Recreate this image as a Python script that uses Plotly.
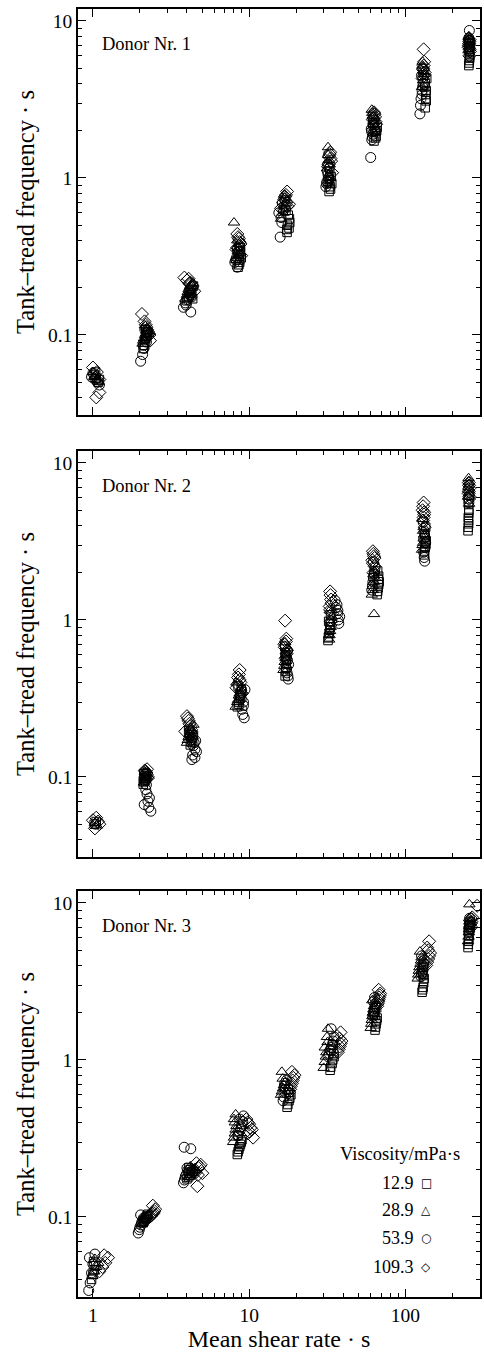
import plotly.graph_objects as go

# ---------------- data ----------------
viscosities = ["12.9", "28.9", "53.9", "109.3"]
donor_labels = ["Donor Nr. 1", "Donor Nr. 2", "Donor Nr. 3"]

# Donor 1
d1_129_x = [1.02,1.05,1.08,1.10,1.04, 2.10,2.15,2.20,2.25,2.18, 4.0,4.1,4.2,4.3,4.4, 8.5,8.7,8.9,8.6,8.8, 17.5,18.0,18.2,17.8,17.2, 32.5,33.0,32.0,33.5,32.8, 63,65,64,66,62, 134,136,135,133,137, 255,257,259,256,258,
            2.18,2.22,2.14, 4.25,4.15,4.35, 8.7,8.8,8.6, 17.6,18.1,17.4, 33.2,32.6,33.8, 64.5,65.5,63.5, 135,136,134, 256,258,257]
d1_129_y = [0.056,0.053,0.050,0.052,0.058, 0.082,0.090,0.098,0.104,0.108, 0.165,0.175,0.185,0.195,0.205, 0.27,0.29,0.31,0.33,0.36, 0.45,0.48,0.52,0.58,0.62, 0.82,0.88,0.95,1.02,1.10, 1.72,1.85,1.98,2.10,2.25, 2.8,3.1,3.4,3.8,4.3, 5.2,5.6,6.0,6.4,6.8,
            0.095,0.100,0.086, 0.180,0.190,0.170, 0.30,0.34,0.28, 0.50,0.55,0.47, 0.85,0.98,0.92, 1.80,2.00,2.18, 3.2,3.6,4.0, 5.4,5.8,6.2]
d1_289_x = [1.00,1.03,1.06,1.09,1.02, 2.08,2.12,2.18,2.22,2.15, 3.9,4.0,4.1,4.2,4.35, 8.0,8.4,8.6,8.5,8.3, 16.0,16.5,17.0,17.5,16.8, 32.0,32.5,31.5,33.0,32.2, 61,62,63,64,62.5, 128,130,132,131,129, 254,256,258,257,255,
            2.16,2.20,2.10, 4.05,4.15,4.25, 8.45,8.55,8.35, 16.6,17.2,16.9, 32.4,32.8,32.0, 62.5,63.5,61.5, 130,131,129, 256,257,255]
d1_289_y = [0.058,0.055,0.052,0.050,0.054, 0.088,0.095,0.102,0.110,0.115, 0.170,0.180,0.195,0.205,0.215, 0.52,0.40,0.36,0.32,0.30, 0.55,0.60,0.66,0.72,0.78, 1.57,1.30,1.15,1.00,0.92, 2.72,2.50,2.30,2.10,1.95, 3.8,4.2,4.6,5.0,5.5, 6.5,6.9,7.3,7.7,8.0,
            0.100,0.106,0.092, 0.188,0.200,0.210, 0.34,0.38,0.31, 0.63,0.69,0.75, 1.05,1.22,1.40, 2.20,2.40,2.60, 4.4,4.8,5.2, 7.1,7.5,7.9]
d1_539_x = [0.98,1.00,1.03,1.07,1.10, 2.02,2.08,2.12,2.20,2.28,2.15, 3.8,3.9,4.0,4.23,4.3, 8.1,8.3,8.5,8.7,8.4, 15.8,16.2,15.5,16.8,17.0, 31.0,31.5,32.0,32.5,31.8, 60,61,62,60.5,62, 124,126,128,130,127, 257,255,258,256,
            2.18,2.24,2.10, 3.95,4.1,4.2, 8.2,8.6,8.4, 16.0,16.5,16.3, 31.3,32.2,31.7, 61.5,60.8,62.5, 125,128,129, 256,257]
d1_539_y = [0.054,0.057,0.052,0.050,0.048, 0.068,0.075,0.082,0.090,0.100,0.108, 0.150,0.160,0.168,0.140,0.175, 0.29,0.31,0.34,0.37,0.27, 0.42,0.52,0.60,0.66,0.72, 0.88,0.95,1.05,1.15,1.22, 1.35,1.75,1.90,2.05,2.20, 2.56,3.2,3.6,4.0,4.5, 8.7,7.8,7.2,6.6,
            0.095,0.104,0.086, 0.155,0.172,0.180, 0.30,0.32,0.35, 0.56,0.63,0.69, 0.92,1.00,1.10, 1.82,1.98,2.12, 2.9,3.4,3.8, 7.5,6.9]
d1_1093_x = [1.00,1.06,1.10,1.10,1.05, 2.06,2.14,2.20,2.25,2.30,2.32, 3.85,4.0,4.15,4.3,4.45, 8.4,8.6,8.8,8.3,8.9, 17.5,17.0,16.5,16.0,18.0, 33.0,32.5,33.5,32.0,34.0, 63,64,62,65,63.5, 131,132,130,133,129, 258,256,254,259,257,
             2.18,2.22,2.28, 4.1,4.2,4.35, 8.5,8.7,8.4, 17.2,16.8,17.6, 32.8,33.2,32.3, 63.5,62.5,64.5, 131,130,132, 257,255,258]
d1_1093_y = [0.062,0.058,0.052,0.043,0.040, 0.136,0.122,0.112,0.105,0.100,0.092, 0.232,0.222,0.212,0.200,0.190, 0.44,0.41,0.38,0.35,0.32, 0.82,0.76,0.70,0.64,0.68, 1.46,1.38,1.28,1.18,1.08, 2.62,2.45,2.35,2.20,2.00, 6.6,5.5,5.0,4.7,4.3, 7.6,7.2,6.8,6.4,6.0,
             0.116,0.108,0.102, 0.228,0.216,0.205, 0.42,0.39,0.36, 0.78,0.73,0.66, 1.42,1.33,1.22, 2.55,2.40,2.28, 5.2,4.9,4.5, 7.4,7.0,6.6]

# Donor 2
d2_129_x = [1.02,1.05, 2.10,2.15,2.20,2.12, 4.2,4.3,4.4,4.1, 8.4,8.6,8.8,9.0,8.5, 17.0,17.2,17.4,17.1,16.9, 32.0,32.5,33.0,32.3,33.2, 66,67,68,67.5,66.5, 132,134,136,133,135, 252,254,253,255,254,
            2.12,2.18,2.16, 4.25,4.35,4.15, 8.6,8.7,8.9, 17.1,17.3,17.0, 32.2,32.8,33.0, 66.5,67.5,67, 133,135,134, 253,254,255]
d2_129_y = [0.050,0.052, 0.090,0.095,0.100,0.105, 0.160,0.172,0.185,0.198, 0.28,0.30,0.32,0.35,0.38, 0.44,0.50,0.56,0.62,0.68, 0.74,0.82,0.90,0.98,1.08, 1.45,1.60,1.75,1.90,2.05, 2.6,2.9,3.2,3.5,3.9, 3.7,4.1,4.5,5.0,5.5,
            0.093,0.098,0.102, 0.166,0.178,0.190, 0.29,0.33,0.36, 0.47,0.53,0.59, 0.78,0.86,0.94, 1.52,1.68,1.82, 2.75,3.05,3.35, 3.9,4.3,4.8]
d2_289_x = [1.03,1.06, 2.12,2.18,2.22,2.15, 4.0,4.1,4.3,4.2,4.4, 8.2,8.5,8.7,8.9,8.3, 16.6,16.9,17.2,17.5,17.0, 32.5,33.0,33.5,33.8,32.8, 63,61,62,64,63.5, 128,130,132,131,129, 254,256,255,253,256,
            2.15,2.20,2.18, 4.05,4.15,4.25, 8.4,8.6,8.8, 16.8,17.1,17.3, 32.7,33.2,33.6, 62,63,62.5, 129,131,130, 255,254,256]
d2_289_y = [0.051,0.049, 0.092,0.098,0.104,0.108, 0.165,0.180,0.195,0.205,0.215, 0.28,0.31,0.34,0.37,0.40, 0.48,0.54,0.60,0.66,0.72, 0.75,0.85,0.95,1.05,1.15, 1.09,1.45,1.65,1.85,2.05, 2.8,3.1,3.5,3.9,4.4, 8.0,7.3,6.7,6.1,5.5,
            0.095,0.101,0.106, 0.172,0.188,0.200, 0.30,0.33,0.36, 0.51,0.57,0.63, 0.80,0.90,1.00, 1.55,1.75,1.95, 3.0,3.3,3.7, 7.6,7.0,6.4]
d2_539_x = [1.04, 2.35,2.13,2.30,2.22,2.20,2.12, 4.3,4.5,4.6,4.4,4.55,4.2, 9.3,9.0,9.2,8.8,9.4, 17.8,17.5,17.9,17.3,17.6, 37.5,38.0,37.0,36.5,35.5, 61,62,63,64,62.5, 133,131,135,132,130, 256,255,
            2.25,2.18,2.28, 4.35,4.5,4.45, 9.1,9.2,8.9, 17.7,17.4,17.6, 37.2,36.8,36.0, 61.5,62.5,63.5, 132,134,131, 255]
d2_539_y = [0.050, 0.0605,0.0667,0.0735,0.078,0.089,0.098, 0.129,0.133,0.145,0.158,0.170,0.185, 0.238,0.27,0.30,0.33,0.36, 0.42,0.46,0.52,0.58,0.64, 0.95,1.05,1.15,1.25,1.33, 1.55,1.75,1.95,2.15,2.35, 2.37,2.7,3.1,3.6,4.2, 6.2,5.6,
            0.070,0.083,0.064, 0.138,0.150,0.165, 0.25,0.285,0.315, 0.44,0.49,0.55, 1.0,1.1,1.2, 1.65,1.85,2.05, 2.5,2.9,3.3, 5.9]
d2_1093_x = [1.00,1.05,1.10,1.03,1.08, 2.15,2.20,2.25,2.18,2.22, 4.0,4.1,4.2,3.9,4.3, 8.7,8.5,8.8,8.3,9.0, 17.0,17.3,16.8,17.5,17.1, 33.0,33.5,32.8,34.0,33.3, 62,63,61.5,63.5,62.5, 131,129,132,130,133, 255,257,254,256,
             2.17,2.21,2.24, 4.05,4.15,4.25, 8.6,8.7,8.5, 17.2,16.9,17.4, 33.2,33.7,33.0, 62.5,63.5,62, 130,132,131, 256,255,257]
d2_1093_y = [0.053,0.055,0.050,0.047,0.052, 0.110,0.106,0.100,0.096,0.112, 0.244,0.228,0.210,0.195,0.175, 0.48,0.43,0.40,0.37,0.34, 0.99,0.76,0.70,0.64,0.57, 1.52,1.35,1.22,1.10,0.98, 2.74,2.55,2.40,2.20,2.00, 5.6,5.0,4.7,4.3,3.9, 7.5,6.9,6.4,5.9,
             0.108,0.104,0.098, 0.236,0.218,0.200, 0.45,0.415,0.385, 0.73,0.67,0.61, 1.44,1.28,1.16, 2.64,2.48,2.30, 5.3,4.85,4.5, 7.2,6.6,6.1]

# Donor 3
d3_129_x = [0.98,1.00,1.02,1.04,1.01, 2.10,2.15,2.20,2.25, 4.0,4.2,4.4,4.1, 8.4,8.6,8.8,9.0,8.5, 17.5,18.0,18.5,17.8, 33.0,34.0,35.0,33.5,34.5, 64,65,66,63,65.5, 128,130,132,129,131, 252,254,256,253,255,
            2.12,2.18,2.22, 4.1,4.3,4.2, 8.5,8.7,8.9, 17.7,18.2,18.0, 33.3,34.3,34.8, 64.5,65.5,64, 129,131,130, 253,255,254]
d3_129_y = [0.040,0.043,0.046,0.049,0.052, 0.092,0.096,0.100,0.104, 0.175,0.185,0.195,0.205, 0.25,0.27,0.29,0.31,0.33, 0.50,0.55,0.60,0.65, 0.86,0.95,1.05,1.15,1.25, 1.55,1.70,1.85,2.00,2.15, 2.7,2.9,3.3,3.6,3.9, 5.2,5.7,6.2,6.7,7.2,
            0.094,0.098,0.102, 0.180,0.190,0.200, 0.26,0.28,0.30, 0.52,0.57,0.62, 0.90,1.00,1.10, 1.62,1.78,1.92, 2.8,3.1,3.45, 5.45,5.95,6.45]
d3_289_x = [0.99,1.02,1.05,1.08,1.03, 2.05,2.12,2.18,2.25, 4.1,4.3,4.5,4.2, 7.9,8.1,8.3,8.0,8.2, 16.0,16.5,17.0,16.2, 30.0,31.0,30.5,31.5,32.0, 60,61,62,63,61.5, 120,122,125,127,124, 252,255,258,256,257,
            2.08,2.15,2.2, 4.2,4.4,4.3, 8.0,8.2,8.1, 16.2,16.7,16.4, 30.5,31.2,31.8, 60.5,61.5,62.5, 121,123,126, 254,256,257]
d3_289_y = [0.042,0.045,0.048,0.051,0.054, 0.090,0.095,0.099,0.103, 0.180,0.190,0.200,0.210, 0.30,0.34,0.38,0.42,0.45, 0.60,0.66,0.72,0.84, 0.89,1.05,1.20,1.40,1.58, 1.60,1.80,2.00,2.20,2.40, 3.3,3.7,4.1,4.5,4.9, 5.7,6.5,7.2,8.0,9.8,
            0.092,0.097,0.101, 0.185,0.195,0.205, 0.32,0.36,0.40, 0.63,0.69,0.76, 0.97,1.12,1.30, 1.70,1.90,2.10, 3.5,3.9,4.3, 6.1,6.8,7.6]
d3_539_x = [0.94,0.96,0.98,1.00,0.95,1.03, 1.95,2.00,2.05,2.10,2.02, 3.84,4.23,3.8,3.9,4.1,4.0, 8.5,8.8,9.0,8.7,9.2, 16.5,17.0,16.8,17.3, 32.0,33.0,34.0,35.0,33.5, 62,63,64,62.5,63.5, 126,128,130,132,127, 257,259,261,258,
            1.98,2.03,2.08, 3.85,3.95,4.05, 8.6,8.9,9.1, 16.7,17.1,16.9, 32.5,33.5,34.5, 62.5,63.5,64, 127,129,131, 258,260]
d3_539_y = [0.034,0.038,0.044,0.050,0.055,0.058, 0.079,0.086,0.092,0.098,0.103, 0.278,0.272,0.165,0.180,0.192,0.205, 0.33,0.36,0.39,0.42,0.44, 0.55,0.62,0.68,0.74, 1.05,1.15,1.25,1.40,1.58, 1.90,2.05,2.20,2.35,2.50, 3.4,3.7,4.0,4.3,4.6, 6.6,7.1,7.6,8.0,
            0.083,0.089,0.095, 0.172,0.186,0.198, 0.345,0.375,0.405, 0.58,0.65,0.71, 1.10,1.20,1.32, 1.98,2.12,2.28, 3.55,3.85,4.15, 6.85,7.35]
d3_1093_x = [1.10,1.15,1.20,1.25,1.18, 2.30,2.38,2.45,2.50,2.42, 4.66,5.02,4.8,4.6,4.7,4.5, 9.6,10.0,10.4,9.8,10.6, 18.0,18.5,19.0,19.5,18.8, 37.0,38.0,39.0,36.5,38.5, 66,67,68,69,67.5, 136,140,144,138,142, 260,263,266,288,
             2.34,2.40,2.47, 4.55,4.75,4.9, 9.8,10.2,10.0, 18.3,18.8,19.2, 37.5,38.5,37.8, 66.5,67.5,68.5, 138,142,140, 262,265,268]
d3_1093_y = [0.045,0.048,0.051,0.055,0.057, 0.100,0.103,0.106,0.112,0.118, 0.157,0.190,0.210,0.220,0.185,0.200, 0.42,0.39,0.36,0.34,0.32, 0.62,0.68,0.74,0.80,0.84, 1.12,1.22,1.32,1.42,1.50, 2.20,2.35,2.50,2.65,2.80, 4.0,4.4,4.8,5.2,5.7, 6.9,7.4,7.9,9.6,
             0.101,0.105,0.109, 0.192,0.205,0.215, 0.40,0.37,0.35, 0.65,0.71,0.77, 1.17,1.27,1.37, 2.28,2.42,2.58, 4.2,4.6,5.0, 7.1,7.6,8.1]

x_tick_vals = [1, 10, 100]
x_tick_text = ["1", "10", "100"]
y_tick_vals = [0.1, 1, 10]
y_tick_text = ["0.1", "1", "10"]

# ---------------- styling ----------------
FONT = "Liberation Serif"
symbols = ["square-open", "triangle-up-open", "circle-open", "diamond-open"]
sizes = [8.5, 10, 10, 10]
legend_glyphs = ["\u25a1", "\u25b3", "\u25cb", "\u25c7"]

donors = [
    [(d1_129_x, d1_129_y), (d1_289_x, d1_289_y), (d1_539_x, d1_539_y), (d1_1093_x, d1_1093_y)],
    [(d2_129_x, d2_129_y), (d2_289_x, d2_289_y), (d2_539_x, d2_539_y), (d2_1093_x, d2_1093_y)],
    [(d3_129_x, d3_129_y), (d3_289_x, d3_289_y), (d3_539_x, d3_539_y), (d3_1093_x, d3_1093_y)],
]

W, H = 484, 1356
m_l, m_r, m_t, m_b = 78, 2, 9, 59
ph = H - m_t - m_b
panel_px = [(9, 415), (451, 857), (891, 1297)]  # top, bottom pixel of each panel
domains = [[(1297 - b) / ph, (1297 - t) / ph] for t, b in panel_px]

fig = go.Figure()
for p, series in enumerate(donors):
    suffix = "" if p == 0 else str(p + 1)
    for k, (xs, ys) in enumerate(series):
        fig.add_trace(go.Scatter(
            x=xs, y=ys, mode="markers", showlegend=False,
            xaxis="x" + suffix, yaxis="y" + suffix,
            marker=dict(symbol=symbols[k], size=sizes[k], color="#000",
                        line=dict(width=1.0, color="#000")),
            name=viscosities[k]))

minor_x = [m * 10 ** e for e in range(0, 3) for m in range(2, 10)]
minor_y = [m * 10 ** e for e in range(-2, 2) for m in range(2, 10)]

layout = dict(
    width=W, height=H, margin=dict(l=m_l, r=m_r, t=m_t, b=m_b),
    paper_bgcolor="white", plot_bgcolor="white",
    font=dict(family=FONT, size=19, color="black"),
)
for p in range(3):
    suffix = "" if p == 0 else str(p + 1)
    xa = dict(
        type="log", range=[-0.0955, 2.478], domain=[0, 1],
        anchor="y" + suffix, showgrid=False, zeroline=False,
        showline=True, linecolor="black", linewidth=1.5, mirror="ticks",
        ticks="inside", ticklen=8, tickwidth=1.3, tickcolor="black",
        tickmode="array", tickvals=x_tick_vals, ticktext=x_tick_text,
        showticklabels=(p == 2),
        minor=dict(ticks="inside", ticklen=4, tickwidth=1, tickcolor="black",
                   tickmode="array", tickvals=minor_x, showgrid=False),
        tickfont=dict(size=19.5, family=FONT),
    )
    if p == 2:
        xa["title"] = dict(text="Mean shear rate \u00b7 s", font=dict(size=24, family=FONT), standoff=3)
    ya = dict(
        type="log", range=[-1.51, 1.0764], domain=domains[p],
        anchor="x" + suffix, showgrid=False, zeroline=False,
        showline=True, linecolor="black", linewidth=1.5, mirror="ticks",
        ticks="inside", ticklen=8, tickwidth=1.3, tickcolor="black",
        tickmode="array", tickvals=y_tick_vals, ticktext=y_tick_text,
        minor=dict(ticks="inside", ticklen=4, tickwidth=1, tickcolor="black",
                   tickmode="array", tickvals=minor_y, showgrid=False),
        tickfont=dict(size=19.5, family=FONT),
        title=dict(text="Tank\u2013tread frequency \u00b7 s", font=dict(size=24.5, family=FONT), standoff=6),
    )
    layout["xaxis" + suffix] = xa
    layout["yaxis" + suffix] = ya

annotations = []
for p in range(3):
    suffix = "" if p == 0 else str(p + 1)
    annotations.append(dict(
        text=donor_labels[p], xref="x" + suffix + " domain", yref="y" + suffix + " domain",
        x=0.055, y=0.915, xanchor="left", yanchor="middle", showarrow=False,
        font=dict(size=18.5, family=FONT, color="black")))

# legend (panel 3) as text
annotations.append(dict(
    text="Viscosity/mPa\u00b7s", xref="x3 domain", yref="y3 domain",
    x=0.955, y=(1297 - 1154) / 406, xanchor="right", yanchor="middle", showarrow=False,
    font=dict(size=18.5, family=FONT, color="black")))
row_px = [1183, 1210, 1238, 1267]
for k in range(4):
    yv = (1297 - row_px[k]) / 406
    annotations.append(dict(
        text=viscosities[k], xref="x3 domain", yref="y3 domain",
        x=0.842, y=yv, xanchor="right", yanchor="middle", showarrow=False,
        font=dict(size=18, family=FONT, color="black")))
    annotations.append(dict(
        text=legend_glyphs[k], xref="x3 domain", yref="y3 domain",
        x=0.866, y=yv, xanchor="center", yanchor="middle", showarrow=False,
        font=dict(size=12, family="DejaVu Sans", color="black")))
layout["annotations"] = annotations

fig.update_layout(**layout)
fig.write_html("out.html")
